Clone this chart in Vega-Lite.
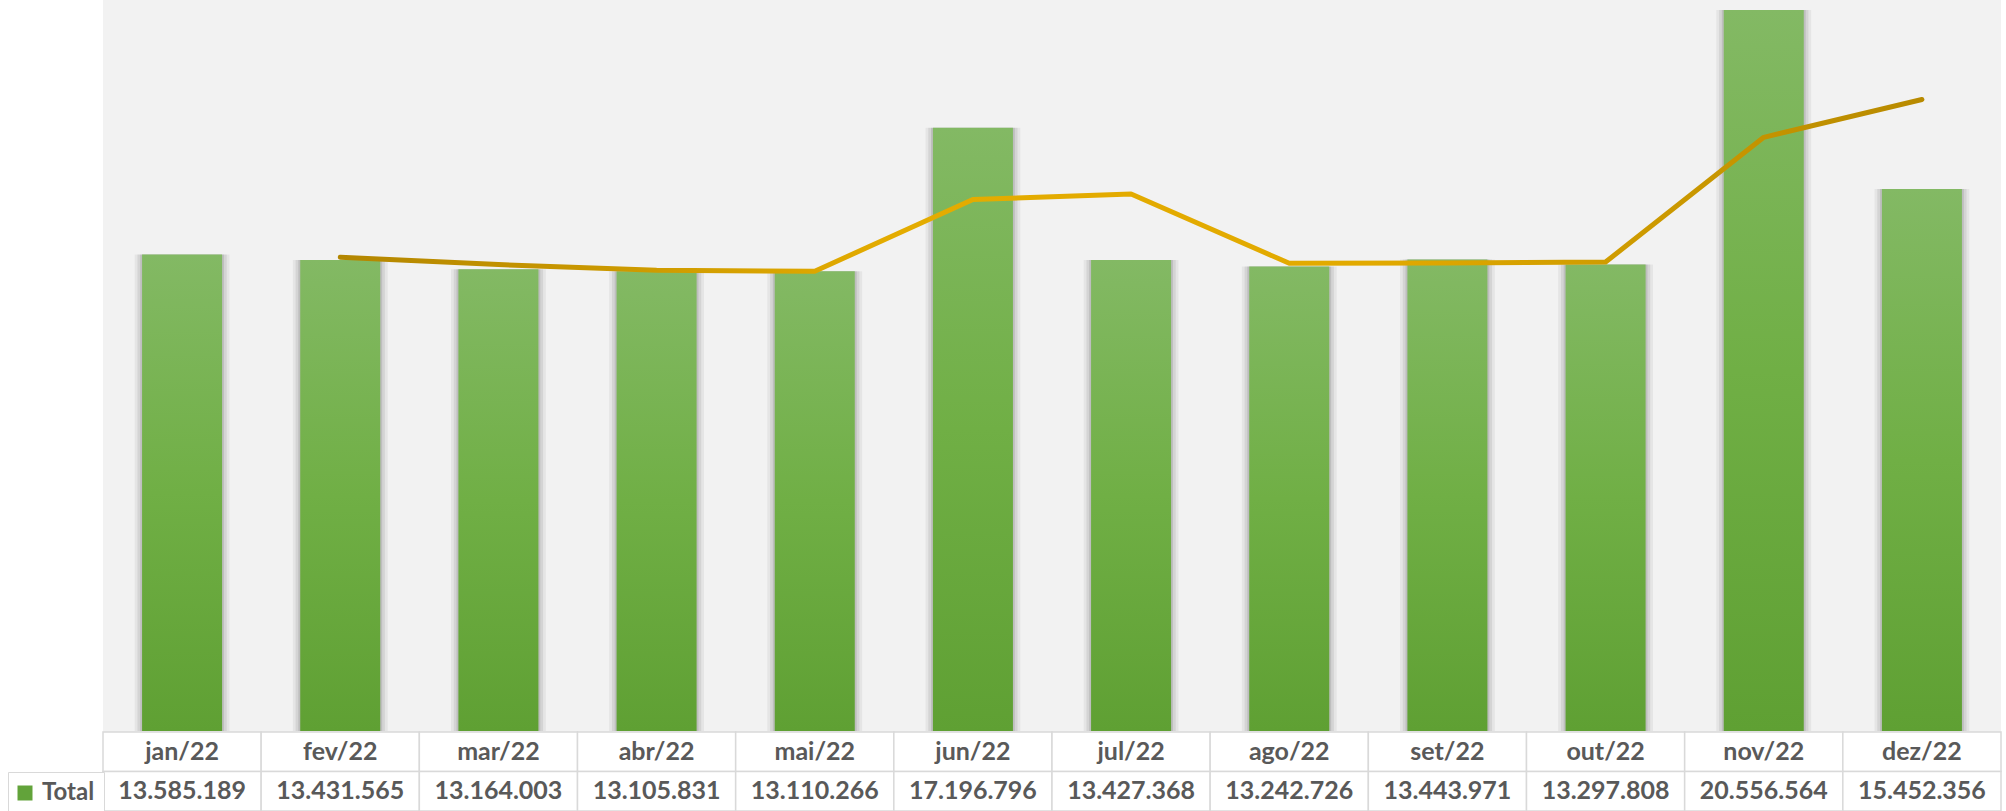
{
  "$schema": "https://vega.github.io/schema/vega-lite/v6.json",
  "width": 1898,
  "height": 811,
  "autosize": {"type": "none"},
  "padding": {"left": 103, "top": 0, "right": 5, "bottom": 0},
  "background": "#FFFFFF",
  "view": {"fill": "#F2F2F2", "stroke": null},
  "config": {
    "font": "Lato",
    "locale": {"number": {"decimal": ",", "thousands": ".", "grouping": [3], "currency": ["R$ ", ""]}}
  },
  "data": {
    "values": [
      {"mes": "jan/22", "total": 13585189, "media": null},
      {"mes": "fev/22", "total": 13431565, "media": 13508000},
      {"mes": "mar/22", "total": 13164003, "media": 13298000},
      {"mes": "abr/22", "total": 13105831, "media": 13135000},
      {"mes": "mai/22", "total": 13110266, "media": 13108000},
      {"mes": "jun/22", "total": 17196796, "media": 15153000},
      {"mes": "jul/22", "total": 13427368, "media": 15312000},
      {"mes": "ago/22", "total": 13242726, "media": 13335000},
      {"mes": "set/22", "total": 13443971, "media": 13343000},
      {"mes": "out/22", "total": 13297808, "media": 13371000},
      {"mes": "nov/22", "total": 20556564, "media": 16927000},
      {"mes": "dez/22", "total": 15452356, "media": 18004000}
    ]
  },
  "encoding": {
    "x": {
      "field": "mes",
      "type": "nominal",
      "sort": null,
      "scale": {
        "type": "band",
        "domain": ["jan/22", "fev/22", "mar/22", "abr/22", "mai/22", "jun/22", "jul/22", "ago/22", "set/22", "out/22", "nov/22", "dez/22"],
        "paddingInner": 0,
        "paddingOuter": 0
      },
      "axis": null
    }
  },
  "layer": [
    {
      "layer": [
        {
          "mark": {"type": "bar", "color": "#000000", "opacity": 0.05, "width": {"band": 0.6}},
          "encoding": {"y": {"field": "total", "type": "quantitative", "scale": {"domain": [-2281000, 20842000], "nice": false, "zero": false}, "axis": null}}
        },
        {
          "mark": {"type": "bar", "color": "#000000", "opacity": 0.07, "width": {"band": 0.565}},
          "encoding": {"y": {"field": "total", "type": "quantitative", "scale": {"domain": [-2281000, 20842000], "nice": false, "zero": false}, "axis": null}}
        },
        {
          "mark": {"type": "bar", "color": "#000000", "opacity": 0.1, "width": {"band": 0.53}},
          "encoding": {"y": {"field": "total", "type": "quantitative", "scale": {"domain": [-2281000, 20842000], "nice": false, "zero": false}, "axis": null}}
        },
        {
          "mark": {
            "type": "bar",
            "width": {"band": 0.506},
            "color": {
              "gradient": "linear", "x1": 0, "y1": 0, "x2": 0, "y2": 1,
              "stops": [
                {"offset": 0, "color": "#83B964"},
                {"offset": 0.5, "color": "#70AF45"},
                {"offset": 1, "color": "#5FA033"}
              ]
            }
          },
          "encoding": {"y": {"field": "total", "type": "quantitative", "scale": {"domain": [-2281000, 20842000], "nice": false, "zero": false}, "axis": null}}
        },
        {
          "mark": {
            "type": "line",
            "strokeWidth": 5,
            "strokeCap": "round",
            "strokeJoin": "round",
            "color": {
              "gradient": "linear", "x1": 0, "y1": 0, "x2": 1, "y2": 0,
              "stops": [
                {"offset": 0, "color": "#B38600"},
                {"offset": 0.35, "color": "#E4AC00"},
                {"offset": 0.65, "color": "#E2AA00"},
                {"offset": 1, "color": "#B88A00"}
              ]
            }
          },
          "encoding": {"y": {"field": "media", "type": "quantitative", "scale": {"domain": [-2281000, 20842000], "nice": false, "zero": false}, "axis": null}}
        },
        {
          "mark": {"type": "square", "size": 0},
          "encoding": {
            "y": {"field": "total", "type": "quantitative", "scale": {"domain": [-2281000, 20842000], "nice": false, "zero": false}, "axis": null},
            "color": {
              "datum": "Total",
              "type": "nominal",
              "scale": {"range": ["#62A33A"]},
              "legend": {
                "orient": "none",
                "legendX": -95,
                "legendY": 772,
                "title": null,
                "padding": 9,
                "strokeColor": "#D9D9D9",
                "fillColor": "#FFFFFF",
                "labelFont": "Lato",
                "labelFontSize": 24,
                "labelFontWeight": "bold",
                "labelColor": "#595959",
                "labelOffset": 5,
                "symbolOffset": -4,
                "symbolType": "square",
                "symbolSize": 225,
                "symbolStrokeWidth": 0,
                "symbolOpacity": 1
              }
            }
          }
        }
      ]
    },
    {
      "layer": [
        {
          "mark": {"type": "rect", "fill": "#FFFFFF", "stroke": "#D9D9D9", "strokeWidth": 1.5},
          "encoding": {"y": {"datum": "Mês", "type": "nominal", "scale": {"type": "band", "domain": ["a1", "a2", "a3", "a4", "a5", "a6", "a7", "a8", "a9", "a10", "a11", "a12", "a13", "a14", "a15", "a16", "a17", "a18", "Mês", "Total"], "paddingInner": 0, "paddingOuter": 0.266, "align": 1}, "axis": null}}
        },
        {
          "mark": {"type": "rect", "fill": "#FFFFFF", "stroke": "#D9D9D9", "strokeWidth": 1.5},
          "encoding": {"y": {"datum": "Total", "type": "nominal", "scale": {"type": "band", "domain": ["a1", "a2", "a3", "a4", "a5", "a6", "a7", "a8", "a9", "a10", "a11", "a12", "a13", "a14", "a15", "a16", "a17", "a18", "Mês", "Total"], "paddingInner": 0, "paddingOuter": 0.266, "align": 1}, "axis": null}}
        },
        {
          "mark": {"type": "text", "fontSize": 25, "fontWeight": "bold", "color": "#595959", "baseline": "middle"},
          "encoding": {
            "y": {"datum": "Mês", "type": "nominal", "scale": {"type": "band", "domain": ["a1", "a2", "a3", "a4", "a5", "a6", "a7", "a8", "a9", "a10", "a11", "a12", "a13", "a14", "a15", "a16", "a17", "a18", "Mês", "Total"], "paddingInner": 0, "paddingOuter": 0.266, "align": 1}, "axis": null},
            "text": {"field": "mes", "type": "nominal"}
          }
        },
        {
          "mark": {"type": "text", "fontSize": 25, "fontWeight": "bold", "color": "#595959", "baseline": "middle"},
          "encoding": {
            "y": {"datum": "Total", "type": "nominal", "scale": {"type": "band", "domain": ["a1", "a2", "a3", "a4", "a5", "a6", "a7", "a8", "a9", "a10", "a11", "a12", "a13", "a14", "a15", "a16", "a17", "a18", "Mês", "Total"], "paddingInner": 0, "paddingOuter": 0.266, "align": 1}, "axis": null},
            "text": {"field": "total", "type": "quantitative", "format": ",d"}
          }
        }
      ]
    }
  ],
  "resolve": {"scale": {"y": "independent"}}
}
